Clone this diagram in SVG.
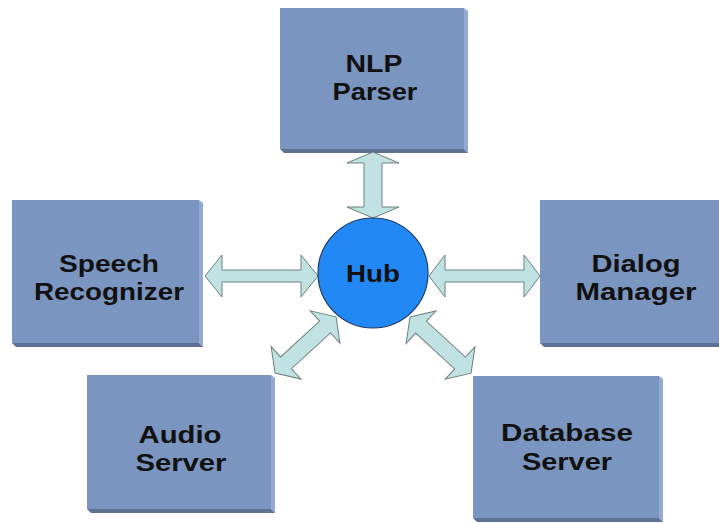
<svg xmlns="http://www.w3.org/2000/svg" width="719" height="523" viewBox="0 0 719 523">
  <style>
    .face { fill: #7A95BF; }
    .side { fill: #93ABD2; }
    .base { fill: #5E7394; }
    .lbl { font-family: "Liberation Sans", Arial, sans-serif; font-weight: bold; font-size: 24px; fill: #111111; text-anchor: middle; }
    .arrow { fill: #C0E2E2; stroke: #6F7F80; stroke-width: 1; stroke-linejoin: miter; }
    .hub { fill: #2288F5; stroke: #1B3A66; stroke-width: 1.2; }
  </style>
  <rect width="719" height="523" fill="#FFFFFF"/>

  <!-- bevelled module boxes -->
  <g id="nlp-parser">
    <rect class="face" x="280" y="8" width="184" height="141"/>
    <polygon class="side" points="464,8 468,11 468,153 464,149"/>
    <polygon class="base" points="280,149 464,149 468,153 284,153"/>
    <text class="lbl" x="374" y="72" textLength="57" lengthAdjust="spacingAndGlyphs">NLP</text>
    <text class="lbl" x="375" y="100" textLength="85" lengthAdjust="spacingAndGlyphs">Parser</text>
  </g>

  <g id="speech-recognizer">
    <rect class="face" x="12" y="200" width="187" height="143"/>
    <polygon class="side" points="199,200 203,203 203,347 199,343"/>
    <polygon class="base" points="12,343 199,343 203,347 16,347"/>
    <text class="lbl" x="109" y="272" textLength="100" lengthAdjust="spacingAndGlyphs">Speech</text>
    <text class="lbl" x="109" y="300" textLength="150" lengthAdjust="spacingAndGlyphs">Recognizer</text>
  </g>

  <g id="dialog-manager">
    <rect class="face" x="540" y="200" width="179" height="143"/>
    <polygon class="base" points="540,343 719,343 719,347 544,347"/>
    <text class="lbl" x="636" y="272" textLength="89" lengthAdjust="spacingAndGlyphs">Dialog</text>
    <text class="lbl" x="636" y="300" textLength="121" lengthAdjust="spacingAndGlyphs">Manager</text>
  </g>

  <g id="audio-server">
    <rect class="face" x="87" y="375" width="184" height="134"/>
    <polygon class="side" points="271,375 275,378 275,513 271,509"/>
    <polygon class="base" points="87,509 271,509 275,513 91,513"/>
    <text class="lbl" x="180" y="443" textLength="83" lengthAdjust="spacingAndGlyphs">Audio</text>
    <text class="lbl" x="181" y="471" textLength="91" lengthAdjust="spacingAndGlyphs">Server</text>
  </g>

  <g id="database-server">
    <rect class="face" x="473" y="376" width="186" height="142"/>
    <polygon class="side" points="659,376 663,379 663,522 659,518"/>
    <polygon class="base" points="473,518 659,518 663,522 477,522"/>
    <text class="lbl" x="567" y="441" textLength="132" lengthAdjust="spacingAndGlyphs">Database</text>
    <text class="lbl" x="567" y="470" textLength="90" lengthAdjust="spacingAndGlyphs">Server</text>
  </g>

  <!-- double-headed block arrows between the hub and each module -->
  <g id="connectors">
    <polygon class="arrow" points="373,152 399,163 382,163 382,207 399,207 373,218 347,207 364,207 364,163 347,163"/>
    <polygon class="arrow" points="205,276 222,255 222,270 301,270 301,255 318,276 301,297 301,282 222,282 222,297"/>
    <polygon class="arrow" points="429,276 445,255 445,270 524,270 524,255 540,276 524,297 524,282 445,282 445,297"/>
    <polygon class="arrow" transform="translate(275,373) rotate(-42.6)" points="0,0 15,-22 15,-8 68,-8 68,-22 83,0 68,22 68,8 15,8 15,22"/>
    <polygon class="arrow" transform="translate(410,317) rotate(42.6)" points="0,0 15,-22 15,-8 68,-8 68,-22 83,0 68,22 68,8 15,8 15,22"/>
  </g>

  <g id="hub">
    <circle class="hub" cx="373" cy="273" r="55"/>
    <text class="lbl" x="373" y="282" textLength="54" lengthAdjust="spacingAndGlyphs">Hub</text>
  </g>
</svg>
